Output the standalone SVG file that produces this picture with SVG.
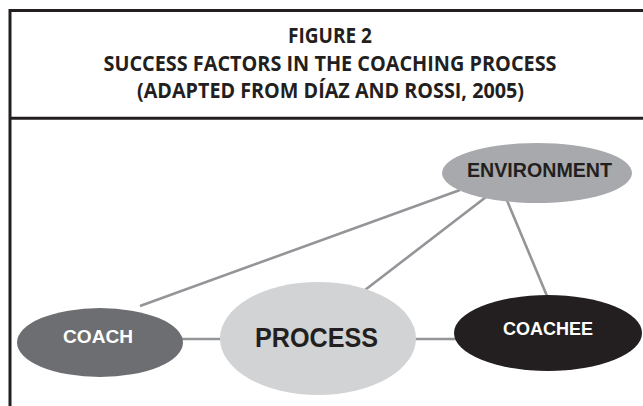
<svg xmlns="http://www.w3.org/2000/svg" width="643" height="406" viewBox="0 0 643 406">
<style>
.frame{stroke:#231f20;stroke-width:3;fill:none}
.conn{stroke:#939598;stroke-width:2.6;fill:none}
.hdr{font-family:"Open Sans","Liberation Sans",sans-serif;font-weight:700;font-size:21px;fill:#231f20;text-anchor:middle}
.lbl{font-family:"Liberation Sans",Arial,sans-serif;font-weight:bold;text-anchor:middle}
</style>
<rect width="643" height="406" fill="#ffffff"/>
<g id="frame">
<line class="frame" x1="10" y1="10.5" x2="643" y2="10.5"/>
<line class="frame" x1="10" y1="9" x2="10" y2="406"/>
<line class="frame" x1="10" y1="118.3" x2="643" y2="118.3"/>
</g>
<g id="title">
<text class="hdr" x="330" y="43" textLength="84" lengthAdjust="spacingAndGlyphs">FIGURE 2</text>
<text class="hdr" x="330" y="71" textLength="453" lengthAdjust="spacingAndGlyphs">SUCCESS FACTORS IN THE COACHING PROCESS</text>
<text class="hdr" x="330.5" y="98" textLength="387" lengthAdjust="spacingAndGlyphs">(ADAPTED FROM DÍAZ AND ROSSI, 2005)</text>
</g>
<g id="connectors">
<line class="conn" x1="180" y1="339" x2="222" y2="339"/>
<line class="conn" x1="414" y1="339" x2="456" y2="339"/>
<line class="conn" x1="140" y1="306" x2="460" y2="190"/>
<line class="conn" x1="365" y1="290" x2="486" y2="197"/>
<line class="conn" x1="506" y1="198" x2="547" y2="296"/>
</g>
<g id="environment">
<ellipse cx="537" cy="173" rx="95" ry="30" fill="#a7a9ac"/>
<text class="lbl" x="539.5" y="177" font-size="20" fill="#231f20" textLength="145" lengthAdjust="spacingAndGlyphs">ENVIRONMENT</text>
</g>
<g id="coach">
<ellipse cx="100" cy="342.5" rx="83" ry="34.5" fill="#6d6e71"/>
<text class="lbl" x="98" y="343" font-size="19" fill="#ffffff" textLength="70" lengthAdjust="spacingAndGlyphs">COACH</text>
</g>
<g id="process">
<ellipse cx="318" cy="338.5" rx="98" ry="56.5" fill="#d1d3d4"/>
<text class="lbl" x="316.5" y="347" font-size="27" fill="#231f20" textLength="123" lengthAdjust="spacingAndGlyphs">PROCESS</text>
</g>
<g id="coachee">
<ellipse cx="548" cy="333" rx="94" ry="38" fill="#231f20"/>
<text class="lbl" x="548" y="335" font-size="18.5" fill="#ffffff" textLength="90" lengthAdjust="spacingAndGlyphs">COACHEE</text>
</g>
</svg>
